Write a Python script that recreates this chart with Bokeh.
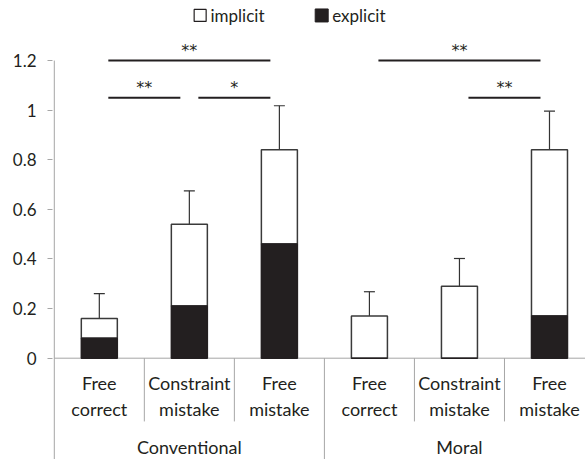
from bokeh.plotting import figure
from bokeh.models import Range1d, FixedTicker, ColumnDataSource, Whisker, TeeHead
from bokeh.core.properties import value
from bokeh.embed import file_html
from bokeh.resources import INLINE

# ---- data ----
groups = ["Conventional", "Moral"]
cat_line1 = ["Free", "Constraint", "Free", "Free", "Constraint", "Free"]
cat_line2 = ["correct", "mistake", "mistake", "correct", "mistake", "mistake"]
total = [0.16, 0.54, 0.84, 0.17, 0.29, 0.84]
explicit = [0.08, 0.21, 0.46, 0.0, 0.0, 0.17]
err = [0.10, 0.135, 0.178, 0.098, 0.112, 0.156]
sig_pairs = [(0, 2), (0, 1), (1, 2), (3, 5), (4, 5)]
sig_level = [1.2, 1.05, 1.05, 1.2, 1.05]
sig_label = ["**", "**", "*", "**", "**"]
y_ticks = [0, 0.2, 0.4, 0.6, 0.8, 1, 1.2]
y_tick_labels = ["0", "0.2", "0.4", "0.6", "0.8", "1", "1.2"]
legend_names = ["implicit", "explicit"]

FONT = "Lato"
TXT = "#231f20"
DARK = "#231f20"
EDGE = "#3a3a3a"
GRAY = "#a6a6a6"

n = len(total)
xc = [i + 0.5 for i in range(n)]

p = figure(width=585, height=459, output_backend="svg", toolbar_location=None,
           x_range=Range1d(-0.02, 5.9), y_range=Range1d(-0.4085, 1.4423),
           x_axis_location=None, min_border_left=52, min_border_right=0,
           min_border_top=0, min_border_bottom=0)
p.outline_line_color = None
p.xgrid.visible = False
p.ygrid.visible = False
p.background_fill_color = "white"
p.border_fill_color = "white"

ax = p.yaxis[0]
ax.ticker = FixedTicker(ticks=y_ticks)
ax.major_label_overrides = {t: l for t, l in zip(y_ticks, y_tick_labels)}
ax.axis_line_color = None
ax.major_tick_line_color = GRAY
ax.major_tick_out = 5
ax.major_tick_in = 0
ax.minor_tick_line_color = None
ax.major_label_text_font = FONT
ax.major_label_text_font_size = "17px"
ax.major_label_text_color = TXT
ax.major_label_standoff = 11

# axis lines and dividers
ymin = p.y_range.start
p.segment(x0=[0], y0=[1.2], x1=[0], y1=[ymin], line_color=GRAY, line_width=1)
p.segment(x0=[0], y0=[0], x1=[n], y1=[0], line_color=GRAY, line_width=1)
inner = [i for i in range(1, n) if i != 3]
p.segment(x0=inner, y0=[0] * len(inner), x1=inner, y1=[-0.255] * len(inner),
          line_color=GRAY, line_width=1)
p.segment(x0=[3, 6], y0=[0, 0], x1=[3, 6], y1=[ymin, ymin], line_color=GRAY, line_width=1)

# bars
src = ColumnDataSource(dict(x=xc, total=total, explicit=explicit,
                            upper=[t + e for t, e in zip(total, err)],
                            lower=[t - e for t, e in zip(total, err)]))
p.vbar(x="x", width=0.4, bottom="explicit", top="total", source=src,
       fill_color="white", line_color=EDGE, line_width=1.5)
p.vbar(x="x", width=0.4, bottom=0, top="explicit", source=src,
       fill_color=DARK, line_color=DARK, line_width=1.5)

wh = Whisker(source=src, base="x", upper="upper", lower="lower",
             line_color="#333333", line_width=1.2,
             upper_head=TeeHead(size=11, line_color="#333333", line_width=1.2),
             lower_head=TeeHead(size=11, line_color="#333333", line_width=1.2))
p.add_layout(wh)

# significance brackets
bx0 = [a + 0.6 for a, b in sig_pairs]
bx1 = [b + 0.4 for a, b in sig_pairs]
p.segment(x0=bx0, y0=sig_level, x1=bx1, y1=sig_level, line_color=DARK, line_width=2)
p.text(x=[(a + b) / 2 for a, b in zip(bx0, bx1)], y=sig_level, text=sig_label,
       text_align="center", text_baseline="middle", y_offset=-10,
       text_font=value("DejaVu Sans"), text_font_size="16px", text_color=TXT)

# category labels
p.text(x=xc, y=[-0.102] * n, text=cat_line1, text_align="center", text_baseline="middle",
       text_font=value(FONT), text_font_size="18px", text_color=TXT)
p.text(x=xc, y=[-0.203] * n, text=cat_line2, text_align="center", text_baseline="middle",
       text_font=value(FONT), text_font_size="18px", text_color=TXT)
p.text(x=[1.5, 4.5], y=[-0.357, -0.357], text=groups, text_align="center",
       text_baseline="middle", text_font=value(FONT), text_font_size="18px", text_color=TXT)

# legend
ly = 1.382
p.scatter(x=[1.62], y=[ly], marker="square", size=12, fill_color="white",
          line_color=DARK, line_width=1.2)
p.scatter(x=[2.97], y=[ly], marker="square", size=13, fill_color=DARK, line_color=DARK)
p.text(x=[1.735, 3.087], y=[ly, ly], text=legend_names, text_align="left",
       text_baseline="middle", text_font=value(FONT), text_font_size="17px", text_color=TXT)

open("out.html", "w").write(file_html(p, INLINE))
